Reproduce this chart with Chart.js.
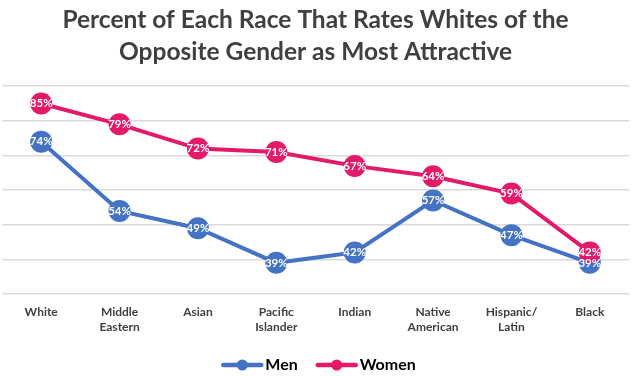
<!DOCTYPE html>
<html><head><meta charset="utf-8">
<script src="https://cdn.jsdelivr.net/npm/chart.js@4/dist/chart.umd.min.js"></script>
<style>html,body{margin:0;padding:0;background:#fff;}#wrap{width:640px;height:376px;}</style>
</head><body><div id="wrap"><canvas id="c" width="640" height="376"></canvas></div>
<script>
const categories = [["White"],["Middle","Eastern"],["Asian"],["Pacific","Islander"],["Indian"],["Native","American"],["Hispanic/","Latin"],["Black"]];
const menValues = [74, 54, 49, 39, 42, 57, 47, 39];
const womenValues = [85, 79, 72, 71, 67, 64, 59, 42];
const seriesNames = ["Men", "Women"];
const titleLines = ["Percent of Each Race That Rates Whites of the", "Opposite Gender as Most Attractive"];

const BLUE = '#4472C4', PINK = '#E3196A';
const FONT = "Lato, 'Open Sans', sans-serif";
const EXTRA = 7;

const labelPlugin = {
  id: 'pointLabels',
  afterDatasetsDraw(chart) {
    const ctx = chart.ctx;
    ctx.save();
    ctx.font = "bold 11.5px " + FONT;
    ctx.fillStyle = '#fff';
    ctx.textAlign = 'center';
    ctx.textBaseline = 'middle';
    chart.data.datasets.forEach((ds, i) => {
      const meta = chart.getDatasetMeta(i);
      meta.data.forEach((pt, j) => {
        ctx.fillText(ds.data[j] + '%', pt.x, pt.y);
      });
    });
    ctx.restore();
  }
};
const legendMarks = {
  id: 'legendMarks',
  afterDraw(chart) {
    const lg = chart.legend;
    if (!lg || !lg.legendHitBoxes) return;
    const ctx = chart.ctx;
    ctx.save();
    lg.legendHitBoxes.forEach((b, i) => {
      const col = chart.data.datasets[i].borderColor;
      const cy = b.top + b.height / 2;
      const x0 = b.left + EXTRA;
      ctx.strokeStyle = col;
      ctx.lineWidth = 4.5;
      ctx.lineCap = 'round';
      ctx.beginPath();
      ctx.moveTo(x0 + 1, cy);
      ctx.lineTo(x0 + 39, cy);
      ctx.stroke();
      ctx.fillStyle = col;
      ctx.beginPath();
      ctx.arc(x0 + 20, cy, 5.5, 0, Math.PI * 2);
      ctx.fill();
    });
    ctx.restore();
  }
};

new Chart(document.getElementById('c'), {
  type: 'line',
  data: {
    labels: categories,
    datasets: [
      { label: seriesNames[0], data: menValues, borderColor: BLUE, backgroundColor: BLUE, borderWidth: 4, pointRadius: 11, pointHoverRadius: 11, pointBorderWidth: 0, tension: 0, order: 1 },
      { label: seriesNames[1], data: womenValues, borderColor: PINK, backgroundColor: PINK, borderWidth: 4, pointRadius: 11, pointHoverRadius: 11, pointBorderWidth: 0, tension: 0, order: 0 }
    ]
  },
  options: {
    responsive: false,
    animation: false,
    layout: { autoPadding: false, padding: { left: 2, right: 11, top: 0, bottom: -7 } },
    plugins: {
      title: { display: true, text: titleLines, color: '#404040', font: { family: FONT, size: 24.5, weight: 'bold', lineHeight: 1.27 }, padding: { top: 5, bottom: 19 } },
      legend: {
        position: 'bottom',
        labels: {
          color: '#333333', font: { family: FONT, size: 16, weight: 'bold' }, boxWidth: 35 + EXTRA, boxHeight: 4, padding: 12,
          generateLabels(chart) {
            return chart.data.datasets.map((ds, i) => ({ text: ds.label, fillStyle: 'rgba(0,0,0,0)', strokeStyle: 'rgba(0,0,0,0)', lineWidth: 0, datasetIndex: i }));
          }
        }
      },
      tooltip: { enabled: false }
    },
    scales: {
      x: {
        offset: true,
        grid: { display: false, drawTicks: false },
        border: { display: false },
        ticks: { color: '#404040', font: { family: FONT, size: 12, weight: 'bold', lineHeight: 1.25 }, maxRotation: 0, padding: 10.5 }
      },
      y: {
        min: 30, max: 90,
        afterFit(s) { s.width = 0; },
        ticks: { display: false, stepSize: 10 },
        border: { display: false },
        grid: { color: '#D9D9D9', lineWidth: 1.5, drawTicks: false }
      }
    }
  },
  plugins: [labelPlugin, legendMarks]
});
</script></body></html>
